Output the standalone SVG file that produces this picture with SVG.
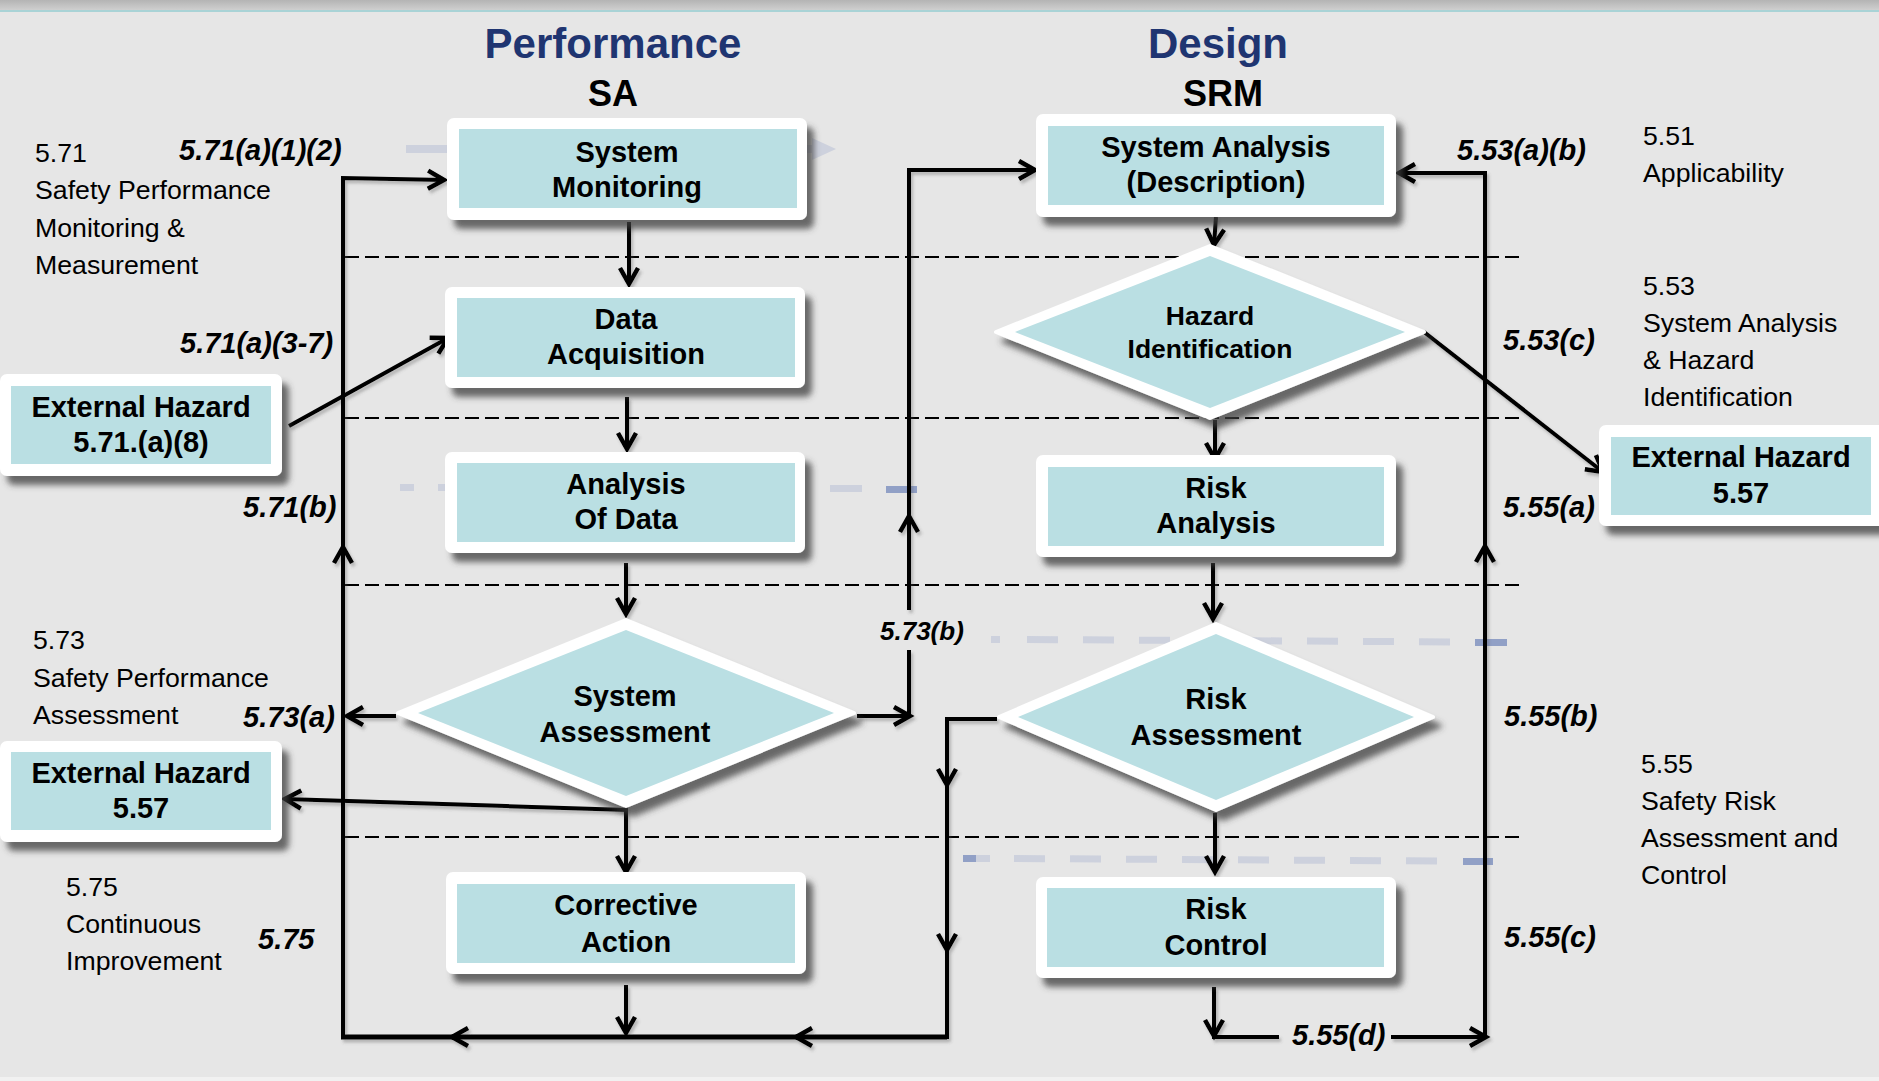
<svg xmlns="http://www.w3.org/2000/svg" width="1879" height="1081" viewBox="0 0 1879 1081">
<defs>
<linearGradient id="topg" x1="0" y1="0" x2="0" y2="1"><stop offset="0" stop-color="#b4b4b4"/><stop offset="1" stop-color="#cfcfcf"/></linearGradient>
<filter id="sh" x="-10%" y="-10%" width="130%" height="140%"><feDropShadow dx="7" dy="9" stdDeviation="3" flood-color="#3c3c3c" flood-opacity="0.75"/></filter>
<filter id="lsh" x="-5%" y="-5%" width="110%" height="110%"><feDropShadow dx="2" dy="3" stdDeviation="1.5" flood-color="#555" flood-opacity="0.35"/></filter>
<marker id="ah" viewBox="0 0 22 22" refX="19" refY="11" markerWidth="22" markerHeight="22" markerUnits="userSpaceOnUse" orient="auto" overflow="visible"><path d="M3,2 L19,11 L3,20" fill="none" stroke="#000" stroke-width="4.5"/></marker>
<style>
.frame{fill:#fff;stroke:#fff;stroke-width:4;stroke-linejoin:round}
.fill{fill:#badfe3}
.bt{font-family:"Liberation Sans",Arial,sans-serif;font-weight:bold;font-size:29px;fill:#000;text-anchor:middle}
.lab{font-family:"Liberation Sans",Arial,sans-serif;font-weight:bold;font-style:italic;font-size:29px;fill:#000}
.reg{font-family:"Liberation Sans",Arial,sans-serif;font-size:26.7px;fill:#000}
.ttl{font-family:"Liberation Sans",Arial,sans-serif;font-weight:bold;font-size:42px;fill:#1f3571;text-anchor:middle}
.sub{font-family:"Liberation Sans",Arial,sans-serif;font-weight:bold;font-size:36px;fill:#000;text-anchor:middle}
.c{fill:none;stroke:#000;stroke-width:4}
.dash{fill:none;stroke:#000;stroke-width:2;stroke-dasharray:14 6}
.fd{fill:#cdd1dd}
.fdd{fill:#91a0c6}
</style>
</defs>
<rect x="0" y="0" width="1879" height="1081" fill="#e6e6e6"/>
<rect x="0" y="0" width="1879" height="10" fill="url(#topg)"/>
<rect x="0" y="10" width="1879" height="2" fill="#a9d3d6"/>
<rect x="0" y="1077" width="1879" height="4" fill="#f1f1f1"/>

<!-- faint decorative dashes -->
<g id="faint">
<rect class="fd" x="406" y="145" width="420" height="8"/>
<polygon class="fd" points="812,138 836,149 812,160"/>
<rect class="fd" x="400" y="484" width="14" height="7"/>
<rect class="fd" x="438" y="484" width="12" height="7"/>
<rect class="fd" x="830" y="485" width="32" height="7"/>
<rect class="fdd" x="886" y="486" width="31" height="7"/>
<rect class="fd" x="991" y="636" width="9" height="7"/>
<line x1="1027" y1="639.5" x2="1470" y2="642" stroke="#cdd1dd" stroke-width="7" stroke-dasharray="31 25"/>
<rect class="fdd" x="1475" y="639" width="32" height="7"/>
<rect class="fdd" x="963" y="855" width="13" height="7"/>
<rect class="fd" x="976" y="855" width="14" height="7"/>
<line x1="1014" y1="858.5" x2="1440" y2="861" stroke="#cdd1dd" stroke-width="7" stroke-dasharray="31 25"/>
<rect class="fdd" x="1463" y="858" width="30" height="7"/>
</g>

<!-- dashed separators -->
<g id="separators">
<line class="dash" x1="345" y1="257" x2="1519" y2="257"/>
<line class="dash" x1="345" y1="418" x2="1519" y2="418"/>
<line class="dash" x1="345" y1="585" x2="1519" y2="585"/>
<line class="dash" x1="345" y1="837" x2="1519" y2="837"/>
</g>

<!-- titles -->
<text class="ttl" x="613" y="58">Performance</text>
<text class="sub" x="613" y="106">SA</text>
<text class="ttl" x="1218" y="58">Design</text>
<text class="sub" x="1223" y="106">SRM</text>

<!-- side texts -->
<g id="notes">
<text class="reg" x="35" y="162">5.71</text>
<text class="reg" x="35" y="199">Safety Performance</text>
<text class="reg" x="35" y="237">Monitoring &amp;</text>
<text class="reg" x="35" y="274">Measurement</text>
<text class="reg" x="33" y="649">5.73</text>
<text class="reg" x="33" y="687">Safety Performance</text>
<text class="reg" x="33" y="724">Assessment</text>
<text class="reg" x="66" y="896">5.75</text>
<text class="reg" x="66" y="933">Continuous</text>
<text class="reg" x="66" y="970">Improvement</text>
<text class="reg" x="1643" y="145">5.51</text>
<text class="reg" x="1643" y="182">Applicability</text>
<text class="reg" x="1643" y="295">5.53</text>
<text class="reg" x="1643" y="332">System Analysis</text>
<text class="reg" x="1643" y="369">&amp; Hazard</text>
<text class="reg" x="1643" y="406">Identification</text>
<text class="reg" x="1641" y="773">5.55</text>
<text class="reg" x="1641" y="810">Safety Risk</text>
<text class="reg" x="1641" y="847">Assessment and</text>
<text class="reg" x="1641" y="884">Control</text>
</g>

<!-- connectors -->
<g id="connectors" filter="url(#lsh)">
<path class="c" d="M343,1037 V547" marker-end="url(#ah)"/>
<path class="c" d="M343,549 V178 L444,180" marker-end="url(#ah)"/>
<path class="c" style="stroke-width:5" d="M947,1037 H796" marker-end="url(#ah)"/>
<path class="c" style="stroke-width:5" d="M798,1037 H452" marker-end="url(#ah)"/>
<path class="c" style="stroke-width:5" d="M454,1037 H341"/>
<path class="c" d="M997,719 H947 V785" marker-end="url(#ah)"/>
<path class="c" d="M947,783 V950" marker-end="url(#ah)"/>
<path class="c" d="M947,948 V1039"/>
<path class="c" d="M626,985 V1033" marker-end="url(#ah)"/>
<path class="c" d="M626,806 V872" marker-end="url(#ah)"/>
<path class="c" d="M628,810 L285,799" marker-end="url(#ah)"/>
<path class="c" d="M396,716 H347" marker-end="url(#ah)"/>
<path class="c" d="M857,716 H910" marker-end="url(#ah)"/>
<path class="c" d="M909,718 V650"/>
<path class="c" d="M909,610 V516" marker-end="url(#ah)"/>
<path class="c" d="M909,518 V170 H1035" marker-end="url(#ah)"/>
<path class="c" d="M629,222 V284" marker-end="url(#ah)"/>
<path class="c" d="M627,397 V449" marker-end="url(#ah)"/>
<path class="c" d="M626,563 V614" marker-end="url(#ah)"/>
<path class="c" d="M289,426 L448,338" marker-end="url(#ah)"/>
<path class="c" d="M1216,217 L1214,245" marker-end="url(#ah)"/>
<path class="c" d="M1215,420 V459" marker-end="url(#ah)"/>
<path class="c" d="M1213,563 V619" marker-end="url(#ah)"/>
<path class="c" d="M1215,813 V872" marker-end="url(#ah)"/>
<path class="c" d="M1214,987 V1036" marker-end="url(#ah)"/>
<path class="c" d="M1212,1037 H1279"/>
<path class="c" d="M1391,1037 H1486" marker-end="url(#ah)"/>
<path class="c" d="M1485,1035 V546" marker-end="url(#ah)"/>
<path class="c" d="M1485,548 V173 H1399" marker-end="url(#ah)"/>
<path class="c" d="M1424,332 L1603,472" marker-end="url(#ah)"/>
</g>

<!-- connector labels -->
<g id="labels">
<text class="lab" x="179" y="160">5.71(a)(1)(2)</text>
<text class="lab" x="180" y="353">5.71(a)(3-7)</text>
<text class="lab" x="243" y="517">5.71(b)</text>
<text class="lab" x="243" y="727">5.73(a)</text>
<text class="lab" x="258" y="949">5.75</text>
<text class="lab" x="880" y="640" style="font-size:26px">5.73(b)</text>
<text class="lab" x="1457" y="160">5.53(a)(b)</text>
<text class="lab" x="1503" y="350">5.53(c)</text>
<text class="lab" x="1503" y="517">5.55(a)</text>
<text class="lab" x="1504" y="726">5.55(b)</text>
<text class="lab" x="1504" y="947">5.55(c)</text>
<text class="lab" x="1292" y="1045">5.55(d)</text>
</g>

<!-- nodes -->
<g id="system-monitoring">
<rect class="frame" x="449" y="120" width="356" height="98" rx="5" filter="url(#sh)"/>
<rect class="fill" x="459" y="129" width="338" height="79"/>
<text class="bt" x="627" y="162">System</text>
<text class="bt" x="627" y="197">Monitoring</text>
</g>
<g id="data-acquisition">
<rect class="frame" x="447" y="289" width="356" height="97" rx="5" filter="url(#sh)"/>
<rect class="fill" x="457" y="298" width="338" height="79"/>
<text class="bt" x="626" y="329">Data</text>
<text class="bt" x="626" y="364">Acquisition</text>
</g>
<g id="analysis-of-data">
<rect class="frame" x="447" y="454" width="356" height="97" rx="5" filter="url(#sh)"/>
<rect class="fill" x="457" y="463" width="338" height="79"/>
<text class="bt" x="626" y="494">Analysis</text>
<text class="bt" x="626" y="529">Of Data</text>
</g>
<g id="system-assessment">
<polygon class="frame" points="626,620 854,713 626,806 398,713" filter="url(#sh)"/>
<polygon class="fill" points="626,630 834,713 626,796 418,713"/>
<text class="bt" x="625" y="706">System</text>
<text class="bt" x="625" y="742">Assessment</text>
</g>
<g id="corrective-action">
<rect class="frame" x="448" y="874" width="356" height="98" rx="5" filter="url(#sh)"/>
<rect class="fill" x="457" y="884" width="338" height="79"/>
<text class="bt" x="626" y="915">Corrective</text>
<text class="bt" x="626" y="952">Action</text>
</g>
<g id="system-analysis">
<rect class="frame" x="1038" y="116" width="356" height="99" rx="5" filter="url(#sh)"/>
<rect class="fill" x="1048" y="126" width="336" height="79"/>
<text class="bt" x="1216" y="157">System Analysis</text>
<text class="bt" x="1216" y="192">(Description)</text>
</g>
<g id="hazard-identification">
<polygon class="frame" points="1210,246 1424,332 1210,418 996,332" filter="url(#sh)"/>
<polygon class="fill" points="1210,256 1405,332 1210,408 1015,332"/>
<text class="bt" x="1210" y="325" style="font-size:26.5px">Hazard</text>
<text class="bt" x="1210" y="358" style="font-size:26.5px">Identification</text>
</g>
<g id="risk-analysis">
<rect class="frame" x="1038" y="457" width="356" height="98" rx="5" filter="url(#sh)"/>
<rect class="fill" x="1048" y="467" width="336" height="79"/>
<text class="bt" x="1216" y="498">Risk</text>
<text class="bt" x="1216" y="533">Analysis</text>
</g>
<g id="risk-assessment">
<polygon class="frame" points="1216,624 1433,717 1216,810 999,717" filter="url(#sh)"/>
<polygon class="fill" points="1216,634 1414,717 1216,800 1018,717"/>
<text class="bt" x="1216" y="709">Risk</text>
<text class="bt" x="1216" y="745">Assessment</text>
</g>
<g id="risk-control">
<rect class="frame" x="1038" y="879" width="356" height="97" rx="5" filter="url(#sh)"/>
<rect class="fill" x="1047" y="888" width="337" height="79"/>
<text class="bt" x="1216" y="919">Risk</text>
<text class="bt" x="1216" y="955">Control</text>
</g>
<g id="external-hazard-1">
<rect class="frame" x="2" y="376" width="278" height="98" rx="5" filter="url(#sh)"/>
<rect class="fill" x="11" y="386" width="260" height="78"/>
<text class="bt" x="141" y="417">External Hazard</text>
<text class="bt" x="141" y="452">5.71.(a)(8)</text>
</g>
<g id="external-hazard-2">
<rect class="frame" x="2" y="743" width="278" height="97" rx="5" filter="url(#sh)"/>
<rect class="fill" x="11" y="752" width="260" height="78"/>
<text class="bt" x="141" y="783">External Hazard</text>
<text class="bt" x="141" y="818">5.57</text>
</g>
<g id="external-hazard-3">
<rect class="frame" x="1601" y="427" width="290" height="97" rx="5" filter="url(#sh)"/>
<rect class="fill" x="1611" y="437" width="260" height="78"/>
<text class="bt" x="1741" y="467">External Hazard</text>
<text class="bt" x="1741" y="503">5.57</text>
</g>
</svg>
